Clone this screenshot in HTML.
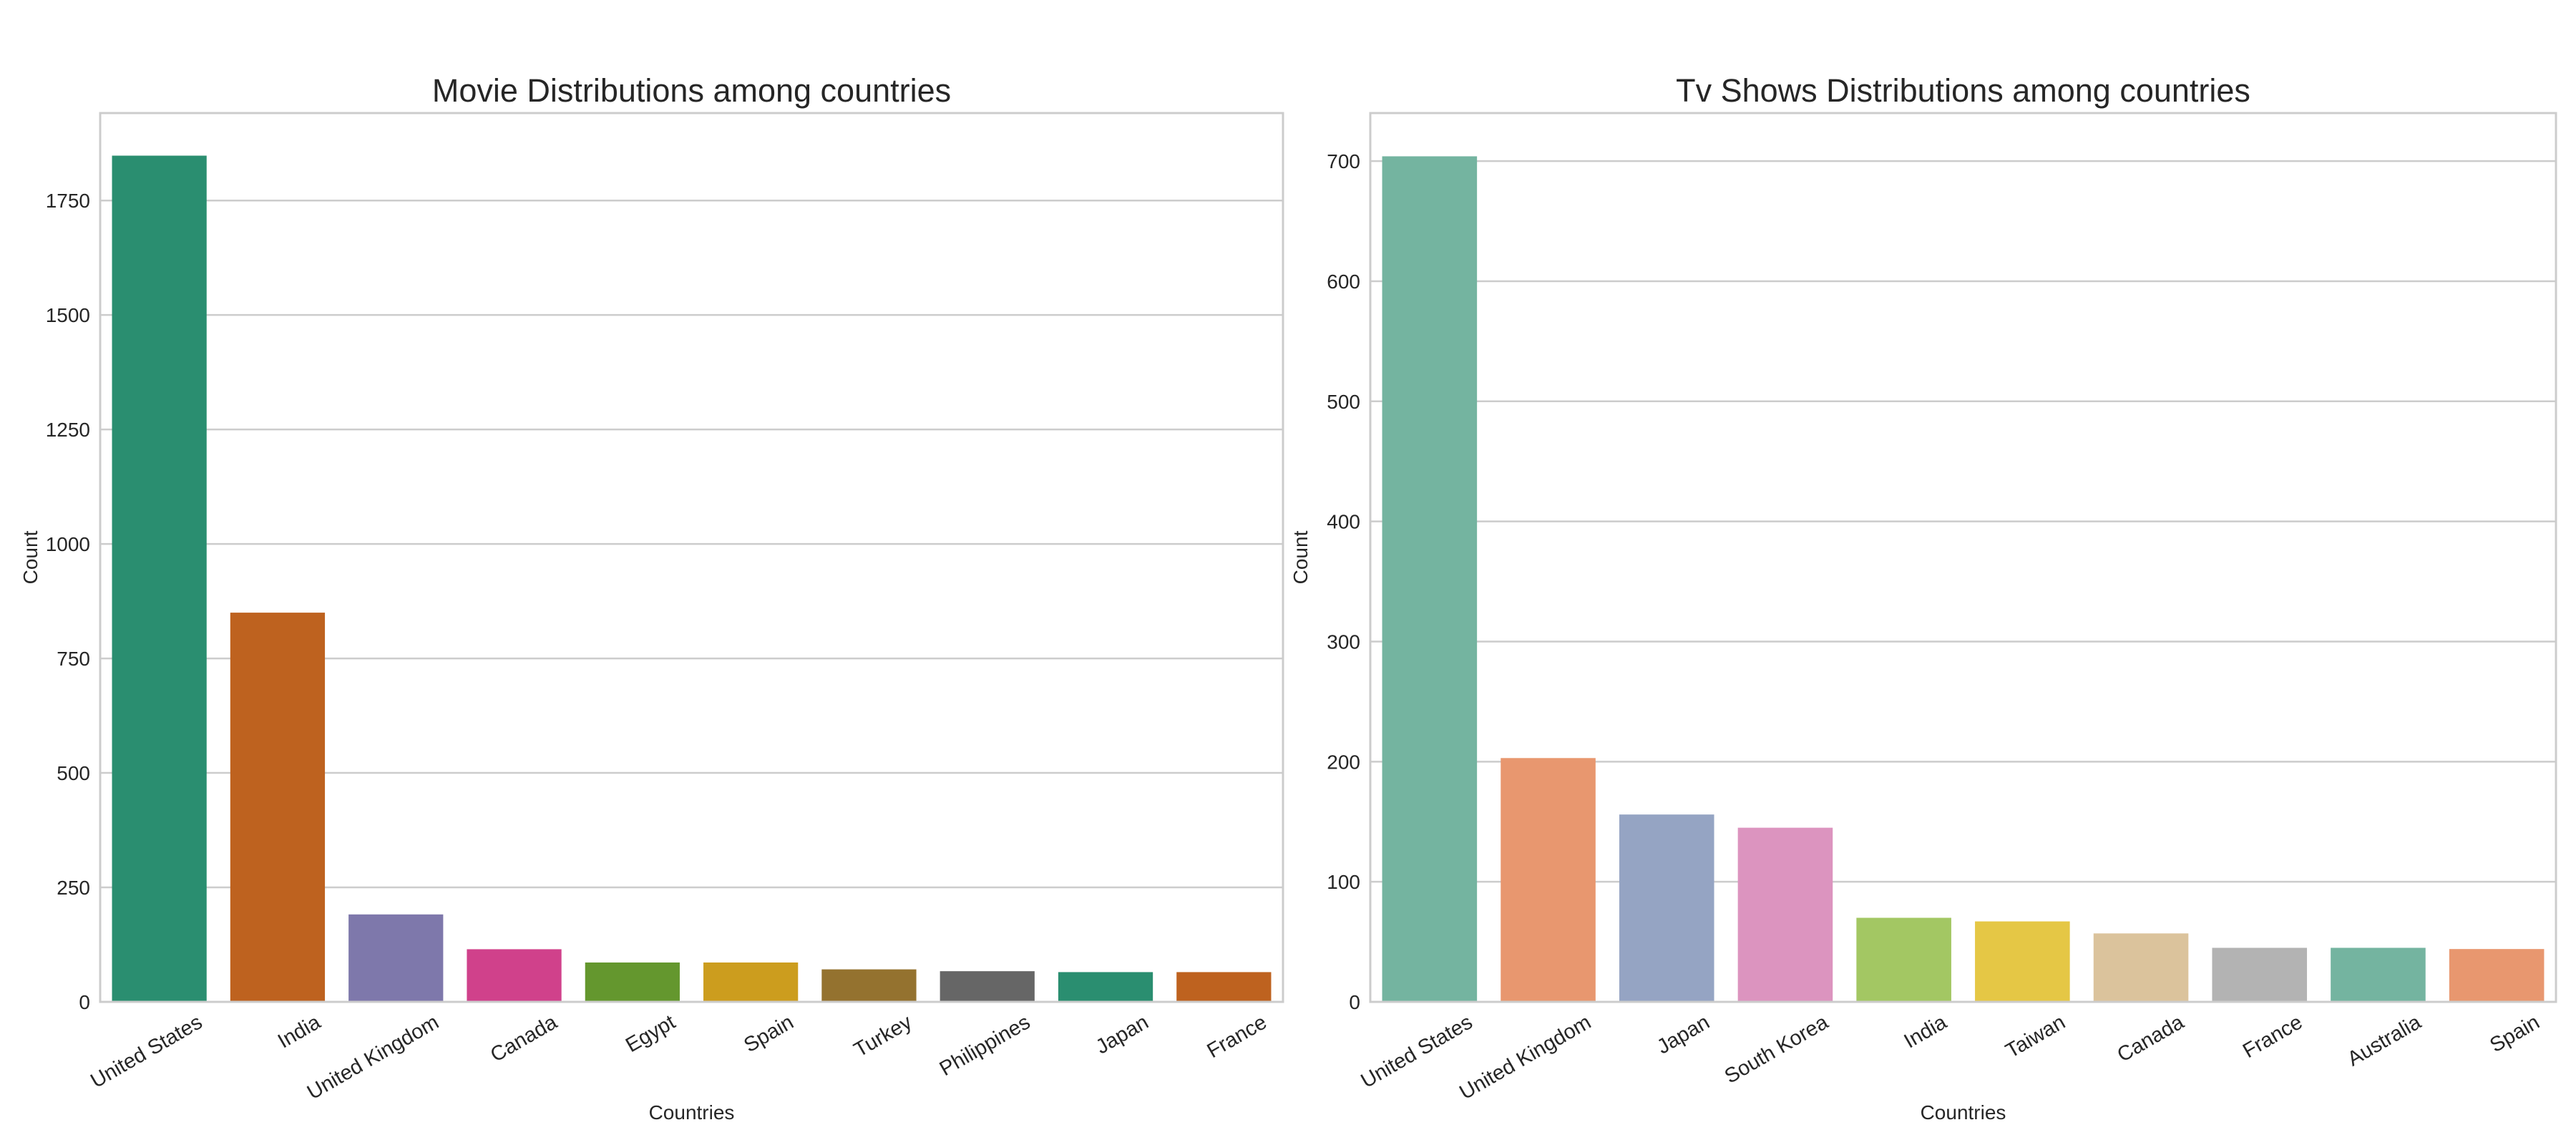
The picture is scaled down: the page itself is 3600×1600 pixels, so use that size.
<!DOCTYPE html>
<html><head><meta charset="utf-8"><style>
html,body{margin:0;padding:0;background:#fff;}
svg{display:block;font-family:"Liberation Sans",Arial,sans-serif;}
</style></head><body>
<svg id="fig" width="3600" height="1600" viewBox="0 0 3600 1600" xmlns="http://www.w3.org/2000/svg"></svg>
<script>
const movieCategories = ["United States","India","United Kingdom","Canada","Egypt","Spain","Turkey","Philippines","Japan","France"];
const movieCounts = [1848,850,191,115,86,86,71,67,65,65];
const movieColors = ["#2a8e70","#be621f","#7e78ab","#d0418b","#64972e","#cc9d1e","#94722f","#666666","#2a8e70","#be621f"];
const movieTicks = [0,250,500,750,1000,1250,1500,1750];
const tvCategories = ["United States","United Kingdom","Japan","South Korea","India","Taiwan","Canada","France","Australia","Spain"];
const tvCounts = [704,203,156,145,70,67,57,45,45,44];
const tvColors = ["#74b4a0","#e8976f","#95a4c3","#dc94bf","#a3c763","#e5c745","#dbc39c","#b3b3b3","#74b4a0","#e8976f"];
const tvTicks = [0,100,200,300,400,500,600,700];

const NS="http://www.w3.org/2000/svg";
const svg=document.getElementById('fig');
function mk(tag,attrs,parent){const e=document.createElementNS(NS,tag);for(const k in attrs)e.setAttribute(k,attrs[k]);(parent||svg).appendChild(e);return e;}

function chart(key,x0,x1,y0,y1,ymax,cats,vals,cols,ticks,title){
  const g=mk('g',{});
  
  
  const ys=v=>y1-(v/ymax)*(y1-y0);
  const slot=(x1-x0)/cats.length;
  const xs=i=>x0+slot*(i+0.5);
  ticks.forEach(t=>{
    const y=ys(t);
    if(t>0){const l=mk('line',{x1:x0,x2:x1,y1:y,y2:y,stroke:'#cccccc','stroke-width':2.5},g);
    
    }
    const tx=mk('text',{x:x0-14,y:y+10,'text-anchor':'end','font-size':28,fill:'#262626'},g);
    tx.textContent=t;
    
    
  });
  vals.forEach((v,i)=>{
    const w=slot*0.8;
    const r=mk('rect',{x:xs(i)-w/2,y:ys(v),width:w,height:y1-ys(v),fill:cols[i]},g);
    
    
    const tx=mk('text',{x:0,y:0,'text-anchor':'end','font-size':29,fill:'#262626',transform:`translate(${xs(i)+62},${y1+34}) rotate(-30)`},g);
    tx.textContent=cats[i];
    
    
  });
  const fr=mk('rect',{x:x0,y:y0,width:x1-x0,height:y1-y0,fill:'none',stroke:'#cccccc','stroke-width':3},g);
  
  
  const t=mk('text',{x:(x0+x1)/2,y:142,'text-anchor':'middle','font-size':45,fill:'#262626'},g);
  t.textContent=title;
  
  
  const xl=mk('text',{x:(x0+x1)/2,y:1564,'text-anchor':'middle','font-size':28,fill:'#262626'},g);
  xl.textContent='Countries';
  
  
  const yl=mk('text',{x:0,y:0,'text-anchor':'middle','font-size':28,fill:'#262626',transform:`translate(${x0-88},${(y0+y1)/2}) rotate(-90)`},g);
  yl.textContent='Count';
  
  
}
chart('movie',140,1793,158,1400,1941,movieCategories,movieCounts,movieColors,movieTicks,'Movie Distributions among countries');
chart('tv',1915,3572,158,1400,740,tvCategories,tvCounts,tvColors,tvTicks,'Tv Shows Distributions among countries');
</script>
</body></html>
